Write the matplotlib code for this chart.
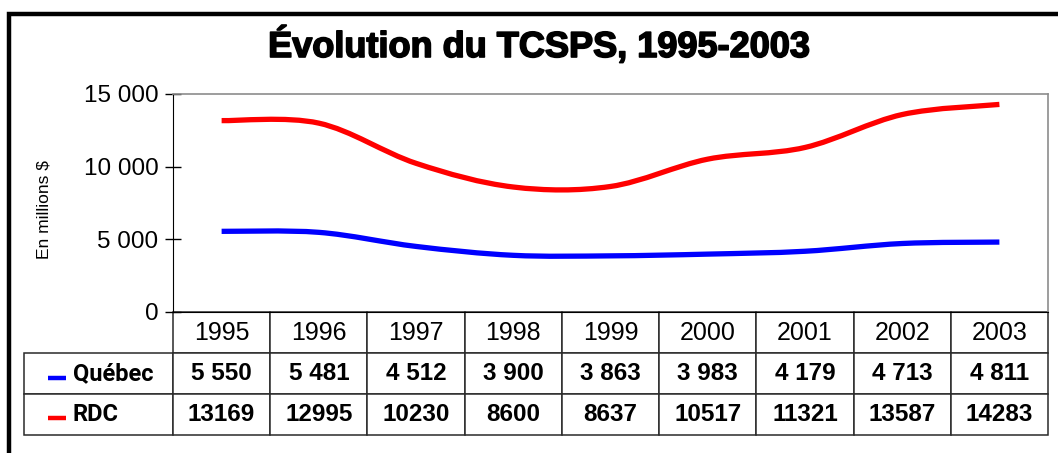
import matplotlib
matplotlib.use("Agg")
import matplotlib.pyplot as plt
import matplotlib.patheffects as pe
from matplotlib.path import Path
from matplotlib.patches import PathPatch, Rectangle
from matplotlib.ticker import FuncFormatter

years = ["1995", "1996", "1997", "1998", "1999", "2000", "2001", "2002", "2003"]
quebec = [5550, 5481, 4512, 3900, 3863, 3983, 4179, 4713, 4811]
rdc = [13169, 12995, 10230, 8600, 8637, 10517, 11321, 13587, 14283]
series_names = ["Québec", "RDC"]
series_colors = ["#0000ff", "#ff0000"]
yticks = [0, 5000, 10000, 15000]

W, H = 1058, 453
# plot area in pixels (left, top, right, bottom)
PL, PT, PR, PB = 173, 94, 1048, 312
TABLE_LEFT, TABLE_BOTTOM = 24, 435

def spaced(v):
    return f"{v:,.0f}".replace(",", " ")

def smooth_path(xs, ys):
    """Excel-like smoothed line (Catmull-Rom as cubic Bezier)."""
    pts = list(zip(xs, ys))
    ext = [pts[0]] + pts + [pts[-1]]
    verts = [pts[0]]
    codes = [Path.MOVETO]
    for i in range(len(pts) - 1):
        p0, p1, p2, p3 = ext[i], ext[i + 1], ext[i + 2], ext[i + 3]
        c1 = (p1[0] + (p2[0] - p0[0]) / 6, p1[1] + (p2[1] - p0[1]) / 6)
        c2 = (p2[0] - (p3[0] - p1[0]) / 6, p2[1] - (p3[1] - p1[1]) / 6)
        verts += [c1, c2, p2]
        codes += [Path.CURVE4] * 3
    return Path(verts, codes)

fig = plt.figure(figsize=(W / 100, H / 100), dpi=100)
ax = fig.add_axes([PL / W, 1 - PB / H, (PR - PL) / W, (PB - PT) / H])

def ax_x(px):
    return (px - PL) / (PR - PL)

def ax_y(py):
    return (PB - py) / (PB - PT)

# outer chart frame (cropped at right/bottom like the original)
fig.patches.append(Rectangle((9 / W, -0.5), 2, 1.5 - 14 / H, transform=fig.transFigure,
                             fill=False, edgecolor="black", linewidth=3.2, clip_on=False))

x = list(range(len(years)))
for vals, col in zip([quebec, rdc], series_colors):
    ax.add_patch(PathPatch(smooth_path(x, vals), facecolor="none", edgecolor=col,
                           linewidth=3.8, capstyle="butt", joinstyle="round", zorder=3))

ax.set_xlim(-0.5, len(years) - 0.5)
ax.set_ylim(0, 15000)
ax.set_xticks([])
ax.set_yticks(yticks)
ax.yaxis.set_major_formatter(FuncFormatter(lambda v, p: spaced(v)))
ax.tick_params(axis="y", direction="inout", length=11, width=1, pad=5,
               labelsize=17.5)
for lab in ax.get_yticklabels():
    lab.set_fontfamily("Liberation Sans")

for s in ["top", "right"]:
    ax.spines[s].set_color("#8c8c8c")
    ax.spines[s].set_linewidth(1.2)
ax.spines["left"].set_color("black")
ax.spines["bottom"].set_color("black")

ax.set_ylabel("En millions $", fontsize=12.5, fontfamily="Liberation Sans")
ax.yaxis.set_label_coords(ax_x(52), ax_y(210))

fig.text(539 / W, 1 - 57 / H, "Évolution du TCSPS, 1995-2003", ha="center", va="baseline",
         fontsize=26, fontweight="bold", fontfamily="Liberation Sans",
         path_effects=[pe.withStroke(linewidth=1.2, foreground="black")])

# data table below the plot (bbox covers the data grid; labels hang to the left)
col_w = 1.0 / len(years)
label_w = (PL - TABLE_LEFT) / (PR - PL)
cell_text = [years, [spaced(v) for v in quebec], [str(v) for v in rdc]]
tbl = ax.table(cellText=cell_text, rowLabels=[""] + series_names,
               colWidths=[col_w] * len(years),
               cellLoc="center", rowLoc="left",
               bbox=[0, ax_y(TABLE_BOTTOM), 1, ax_y(PB) - ax_y(TABLE_BOTTOM)])
tbl.auto_set_font_size(False)
tbl._autoColumns = []
for (r, c), cell in tbl.get_celld().items():
    cell.set_edgecolor("#2a2a2a")
    cell.set_linewidth(1.1)
    t = cell.get_text()
    if c == -1:
        cell.set_width(label_w)
        if r == 0:
            cell.visible_edges = ""
            continue
        cell.PAD = 49 / (PL - TABLE_LEFT)
        t.set_fontfamily("Roboto")
        t.set_fontweight("bold")
        t.set_fontsize(17)
    elif r == 0:
        t.set_fontfamily("Liberation Sans")
        t.set_fontsize(18)
    else:
        t.set_fontfamily("Liberation Sans")
        t.set_fontweight("bold")
        t.set_fontsize(17.5)

# legend keys in the row-label cells
for col, ky in zip(series_colors, [377.5, 418]):
    ax.plot([ax_x(48), ax_x(66)], [ax_y(ky), ax_y(ky)], color=col, linewidth=3.2,
            solid_capstyle="butt", transform=ax.transAxes, clip_on=False)

fig.savefig("out.png", dpi=100)
